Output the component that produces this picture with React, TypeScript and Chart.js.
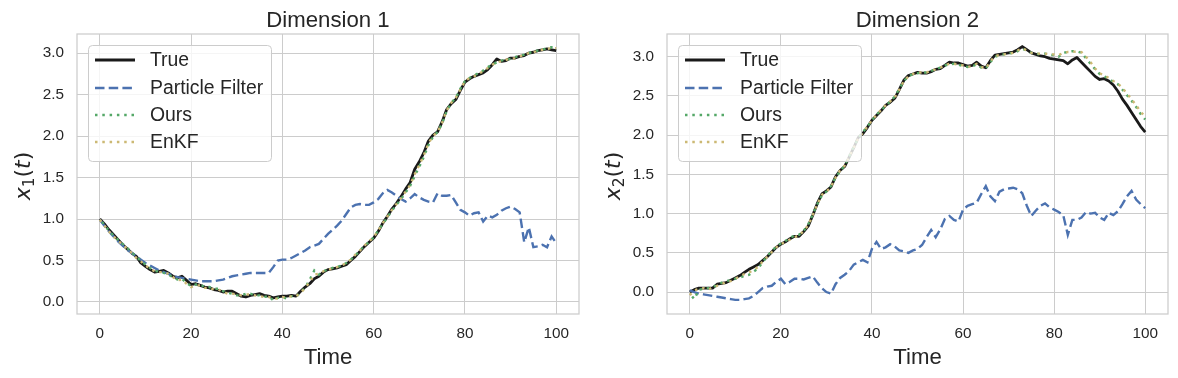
import React, { useEffect, useRef } from "react";
import { Chart, registerables } from "chart.js";

Chart.register(...registerables);

// ---------- data ----------
const TIME = [
  0, 1, 2, 3, 4, 5, 6, 7, 8, 9, 10, 11, 12, 13, 14, 15, 16, 17, 18, 19, 20,
  21, 22, 23, 24, 25, 26, 27, 28, 29, 30, 31, 32, 33, 34, 35, 36, 37, 38, 39, 40,
  41, 42, 43, 44, 45, 46, 47, 48, 49, 50, 51, 52, 53, 54, 55, 56, 57, 58, 59, 60,
  61, 62, 63, 64, 65, 66, 67, 68, 69, 70, 71, 72, 73, 74, 75, 76, 77, 78, 79, 80,
  81, 82, 83, 84, 85, 86, 87, 88, 89, 90, 91, 92, 93, 94, 95, 96, 97, 98, 99, 100,
];
const X_TICKS = [0, 20, 40, 60, 80, 100];
const Y_TICKS = [0, 0.5, 1, 1.5, 2, 2.5, 3];
const SERIES_NAMES = ["True", "Particle Filter", "Ours", "EnKF"];
const PANEL_TITLES = ["Dimension 1", "Dimension 2"];
const X_LABEL = "Time";

const D1_TRUE = [
  1.0, 0.94, 0.87, 0.81, 0.75, 0.69, 0.64, 0.59, 0.55, 0.47,
  0.43, 0.39, 0.36, 0.37, 0.38, 0.35, 0.31, 0.29, 0.31, 0.26,
  0.21, 0.22, 0.2, 0.18, 0.17, 0.15, 0.14, 0.12, 0.13, 0.13,
  0.1, 0.07, 0.06, 0.08, 0.09, 0.1, 0.08, 0.07, 0.05, 0.06,
  0.07, 0.07, 0.08, 0.07, 0.13, 0.18, 0.22, 0.28, 0.31, 0.36,
  0.39, 0.4, 0.41, 0.43, 0.45, 0.5, 0.55, 0.61, 0.67, 0.72,
  0.77, 0.85, 0.95, 1.03, 1.12, 1.19, 1.27, 1.36, 1.44, 1.6,
  1.69, 1.8, 1.94, 2.01, 2.05, 2.17, 2.32, 2.39, 2.44, 2.55,
  2.65, 2.69, 2.72, 2.74, 2.76, 2.8, 2.86, 2.93, 2.9, 2.91,
  2.94, 2.94, 2.96, 2.97, 3.0, 3.01, 3.03, 3.04, 3.05, 3.04,
  3.03,
];
const D1_PF = [
  0.99, 0.92, 0.85, 0.79, 0.73, 0.68, 0.63, 0.59, 0.55, 0.51,
  0.47, 0.44, 0.41, 0.38, 0.36, 0.34, 0.32, 0.3, 0.29, 0.28,
  0.27, 0.26, 0.25, 0.25, 0.25, 0.25, 0.26, 0.27, 0.29, 0.31,
  0.32, 0.33, 0.34, 0.35, 0.35, 0.35, 0.35, 0.35, 0.42, 0.5,
  0.51, 0.51, 0.53, 0.56, 0.59, 0.62, 0.66, 0.68, 0.7, 0.76,
  0.82, 0.87, 0.92, 0.98, 1.06, 1.14, 1.17, 1.18, 1.17, 1.17,
  1.2, 1.24, 1.31, 1.35, 1.32, 1.28, 1.24, 1.21, 1.25, 1.3,
  1.26, 1.23, 1.21, 1.2, 1.31, 1.28, 1.28, 1.29, 1.2, 1.11,
  1.08, 1.04, 1.07, 1.08, 0.97, 1.04, 1.02, 1.05, 1.1, 1.13,
  1.15, 1.12, 1.08, 0.72, 0.9, 0.66, 0.67, 0.69, 0.66, 0.79,
  0.71,
];
const D1_OURS = [
  1.0, 0.93, 0.86, 0.8, 0.75, 0.7, 0.65, 0.6, 0.54, 0.5,
  0.45, 0.41, 0.38, 0.36, 0.35, 0.33, 0.3, 0.27, 0.28, 0.23,
  0.19, 0.21, 0.21, 0.18, 0.18, 0.16, 0.16, 0.13, 0.11, 0.1,
  0.08, 0.08, 0.1, 0.1, 0.08, 0.08, 0.06, 0.07, 0.02, 0.05,
  0.06, 0.04, 0.07, 0.06, 0.12, 0.17, 0.27, 0.38, 0.33, 0.37,
  0.39, 0.41, 0.42, 0.44, 0.47, 0.51, 0.56, 0.62, 0.68, 0.72,
  0.78, 0.86, 0.94, 1.02, 1.1, 1.17, 1.24, 1.32, 1.4, 1.52,
  1.63, 1.75, 1.89, 1.99, 2.05, 2.15, 2.3, 2.4, 2.46, 2.57,
  2.66, 2.7, 2.73, 2.76, 2.79, 2.83, 2.86, 2.89, 2.91, 2.92,
  2.93, 2.95, 2.97, 2.98, 3.0, 3.02, 3.03, 3.04, 3.06, 3.07,
  3.06,
];
const D1_ENKF = [
  0.99, 0.92, 0.85, 0.79, 0.74, 0.69, 0.64, 0.59, 0.53, 0.49,
  0.44, 0.4, 0.37, 0.36, 0.36, 0.34, 0.3, 0.26, 0.27, 0.22,
  0.18, 0.2, 0.2, 0.17, 0.17, 0.15, 0.15, 0.12, 0.1, 0.1,
  0.09, 0.08, 0.09, 0.09, 0.08, 0.07, 0.06, 0.06, 0.04, 0.04,
  0.06, 0.05, 0.07, 0.07, 0.11, 0.17, 0.24, 0.33, 0.34, 0.37,
  0.39, 0.4, 0.42, 0.44, 0.47, 0.51, 0.57, 0.62, 0.68, 0.73,
  0.78, 0.86, 0.95, 1.03, 1.11, 1.18, 1.25, 1.33, 1.41, 1.54,
  1.65, 1.77, 1.91, 2.0, 2.05, 2.16, 2.31, 2.4, 2.46, 2.56,
  2.66, 2.7, 2.72, 2.75, 2.78, 2.82, 2.86, 2.89, 2.9, 2.92,
  2.93, 2.94, 2.96, 2.98, 3.0, 3.01, 3.03, 3.04, 3.05, 3.06,
  3.06,
];

const D2_TRUE = [
  0.0, 0.03, 0.05, 0.05, 0.05, 0.05, 0.1, 0.11, 0.12, 0.15,
  0.18, 0.21, 0.25, 0.29, 0.32, 0.35, 0.4, 0.45, 0.51, 0.57,
  0.61, 0.64, 0.68, 0.71, 0.71, 0.77, 0.84, 0.98, 1.13, 1.25,
  1.29, 1.34, 1.47, 1.55, 1.6, 1.72, 1.84, 1.97, 2.02, 2.1,
  2.19, 2.25, 2.31, 2.38, 2.42, 2.47, 2.58, 2.7, 2.76, 2.78,
  2.8, 2.79, 2.79, 2.81, 2.84, 2.85, 2.89, 2.93, 2.92, 2.92,
  2.9, 2.88, 2.89, 2.93, 2.88, 2.86, 2.95, 3.02, 3.03, 3.04,
  3.05, 3.06, 3.09, 3.13, 3.09, 3.05, 3.03, 3.01, 3.0, 2.98,
  2.97, 2.96, 2.95, 2.91, 2.96, 2.99, 2.93, 2.87, 2.81, 2.75,
  2.71, 2.72, 2.69, 2.64, 2.56, 2.46, 2.38, 2.29, 2.2, 2.11,
  2.04,
];
const D2_PF = [
  0.02, 0.0, -0.02, -0.03, -0.04, -0.05, -0.06, -0.07, -0.08, -0.09,
  -0.1, -0.1, -0.09, -0.08, -0.05, 0.0, 0.05, 0.07, 0.08, 0.13,
  0.17, 0.1, 0.13, 0.17, 0.17, 0.16, 0.18, 0.2, 0.12, 0.05,
  0.0, -0.02, 0.1, 0.18, 0.22, 0.27, 0.35, 0.38, 0.41, 0.38,
  0.55, 0.64, 0.55, 0.57, 0.61, 0.58, 0.53, 0.52, 0.5, 0.53,
  0.55, 0.6, 0.7, 0.79, 0.7, 0.8, 0.93, 0.97, 0.92, 0.9,
  1.05, 1.1, 1.12, 1.14, 1.25, 1.35, 1.22, 1.16, 1.28, 1.31,
  1.32, 1.33, 1.31, 1.26, 1.1, 0.97, 1.04, 1.1, 1.13, 1.08,
  1.05, 1.02, 0.98, 0.73, 0.92, 0.92, 0.95, 1.02, 1.0, 1.01,
  0.95, 0.92, 1.01, 0.98, 1.03, 1.12, 1.22, 1.29, 1.18, 1.12,
  1.07,
];
const D2_OURS = [
  -0.02, -0.09, 0.03, 0.04, 0.05, 0.06, 0.09, 0.12, 0.14, 0.15,
  0.17, 0.18, 0.21, 0.22, 0.26, 0.3, 0.38, 0.46, 0.52, 0.58,
  0.62, 0.65, 0.69, 0.72, 0.73, 0.78, 0.86, 0.99, 1.12, 1.23,
  1.28, 1.35, 1.46, 1.54, 1.61, 1.73, 1.85, 1.96, 2.04, 2.11,
  2.19, 2.26, 2.32, 2.37, 2.43, 2.49, 2.59, 2.69, 2.75, 2.78,
  2.79, 2.8, 2.8, 2.82, 2.84, 2.86, 2.89, 2.9, 2.91, 2.9,
  2.88, 2.87, 2.88, 2.9, 2.86, 2.85, 2.93, 3.0, 3.02, 3.03,
  3.04, 3.05, 3.07, 3.1, 3.08, 3.05, 3.04, 3.03, 3.04, 3.03,
  3.02, 3.0, 3.05, 3.06, 3.07, 3.07, 3.05, 2.98, 2.91, 2.84,
  2.78, 2.75, 2.72, 2.68, 2.65, 2.58, 2.51, 2.44, 2.36, 2.27,
  2.2,
];
const D2_ENKF = [
  -0.04, 0.02, 0.04, 0.05, 0.03, 0.06, 0.08, 0.1, 0.13, 0.14,
  0.17, 0.2, 0.23, 0.25, 0.28, 0.32, 0.39, 0.45, 0.51, 0.57,
  0.61, 0.64, 0.67, 0.7, 0.72, 0.78, 0.85, 0.98, 1.12, 1.24,
  1.28, 1.34, 1.46, 1.55, 1.61, 1.72, 1.84, 1.96, 2.03, 2.11,
  2.19, 2.26, 2.32, 2.38, 2.43, 2.48, 2.58, 2.69, 2.75, 2.78,
  2.8, 2.8, 2.8, 2.82, 2.84, 2.86, 2.89, 2.91, 2.91, 2.9,
  2.89, 2.87, 2.88, 2.91, 2.87, 2.85, 2.94, 3.01, 3.02, 3.03,
  3.04, 3.05, 3.08, 3.11, 3.08, 3.05, 3.04, 3.04, 3.04, 3.03,
  3.03, 3.02, 3.05, 3.06, 3.06, 3.07, 3.06, 3.0, 2.93, 2.85,
  2.79, 2.76, 2.73, 2.69, 2.66, 2.6, 2.53, 2.46, 2.38, 2.3,
  2.23,
];

// ---------- styles ----------
const FONT = '"Liberation Sans", Arial, sans-serif';
const MATH_FONT = '"DejaVu Sans", sans-serif';
const TEXT_COLOR = "#262626";
const GRID_COLOR = "#cccccc";
const STYLES = [
  { color: "#1a1a1a", width: 2.8, dash: [] as number[], offset: 0 },
  { color: "#4c72b0", width: 2.4, dash: [9.5, 4.2], offset: 0 },
  { color: "#55a868", width: 2.4, dash: [2.5, 4.8], offset: 3.6 },
  { color: "#ccb974", width: 2.4, dash: [2.5, 4.8], offset: 0 },
];

type PanelCfg = {
  title: string;
  sub: string;
  series: number[][];
  yMin: number;
  yMax: number;
  width: number;
  areaLeft: number;
  areaRight: number;
  left: number;
};

const PANELS: PanelCfg[] = [
  {
    title: PANEL_TITLES[0],
    sub: "1",
    series: [D1_TRUE, D1_PF, D1_OURS, D1_ENKF],
    yMin: -0.145,
    yMax: 3.23,
    width: 600,
    areaLeft: 77,
    areaRight: 579,
    left: 0,
  },
  {
    title: PANEL_TITLES[1],
    sub: "2",
    series: [D2_TRUE, D2_PF, D2_OURS, D2_ENKF],
    yMin: -0.28,
    yMax: 3.29,
    width: 578,
    areaLeft: 67,
    areaRight: 568,
    left: 600,
  },
];

const HEIGHT = 378;
const AREA_TOP = 34;
const AREA_BOTTOM = 314;

function drawYLabel(ctx: CanvasRenderingContext2D, bx: number, cy: number, sub: string) {
  const size = 22;
  const parts = [
    { t: "x", font: `italic ${size}px ${MATH_FONT}`, dy: 0 },
    { t: sub, font: `${size * 0.7}px ${MATH_FONT}`, dy: size * 0.2 },
    { t: "(", font: `${size}px ${MATH_FONT}`, dy: 0 },
    { t: "t", font: `italic ${size}px ${MATH_FONT}`, dy: 0 },
    { t: ")", font: `${size}px ${MATH_FONT}`, dy: 0 },
  ];
  ctx.save();
  ctx.translate(bx, cy);
  ctx.rotate(-Math.PI / 2);
  ctx.fillStyle = TEXT_COLOR;
  ctx.textBaseline = "alphabetic";
  ctx.textAlign = "left";
  let total = 0;
  const widths = parts.map((p) => {
    ctx.font = p.font;
    const w = ctx.measureText(p.t).width;
    total += w;
    return w;
  });
  let x = -total / 2;
  parts.forEach((p, i) => {
    ctx.font = p.font;
    ctx.fillText(p.t, x, p.dy);
    x += widths[i];
  });
  ctx.restore();
}

function makeDecor(cfg: PanelCfg) {
  return {
    id: "decor",
    afterDatasetsDraw(chart: any) {
      const { ctx, chartArea: a } = chart;
      ctx.save();
      ctx.strokeStyle = GRID_COLOR;
      ctx.lineWidth = 1.25;
      ctx.strokeRect(a.left, a.top, a.right - a.left, a.bottom - a.top);
      ctx.restore();
    },
    afterDraw(chart: any) {
      const { ctx, chartArea: a } = chart;
      const cx = (a.left + a.right) / 2;
      ctx.save();
      ctx.fillStyle = TEXT_COLOR;
      ctx.textAlign = "center";
      ctx.textBaseline = "alphabetic";
      ctx.font = `22.2px ${FONT}`;
      ctx.fillText(cfg.title, cx, 26.5);
      ctx.fillText(X_LABEL, cx, 364);
      ctx.restore();
      drawYLabel(ctx, a.left - 47, (a.top + a.bottom) / 2 + 2, cfg.sub);

      // legend
      const bx = a.left + 11;
      const by = a.top + 11;
      const bw = 183;
      const bh = 116;
      ctx.save();
      ctx.beginPath();
      (ctx as any).roundRect(bx + 0.5, by + 0.5, bw, bh, 4);
      ctx.fillStyle = "rgba(255,255,255,0.8)";
      ctx.fill();
      ctx.strokeStyle = GRID_COLOR;
      ctx.lineWidth = 1;
      ctx.stroke();
      const rows = [15, 43, 70, 97];
      SERIES_NAMES.forEach((name, i) => {
        const y = by + rows[i];
        const st = STYLES[i];
        ctx.beginPath();
        ctx.setLineDash(st.dash);
        ctx.lineDashOffset = 0;
        ctx.strokeStyle = st.color;
        ctx.lineWidth = st.width;
        ctx.lineCap = "butt";
        ctx.moveTo(bx + 7, y);
        ctx.lineTo(bx + 47, y);
        ctx.stroke();
        ctx.setLineDash([]);
        ctx.fillStyle = TEXT_COLOR;
        ctx.font = `19.4px ${FONT}`;
        ctx.textAlign = "left";
        ctx.textBaseline = "middle";
        ctx.fillText(name, bx + 62, y + 1);
      });
      ctx.restore();
    },
  };
}

function Panel({ cfg }: { cfg: PanelCfg }) {
  const ref = useRef<HTMLCanvasElement | null>(null);
  useEffect(() => {
    if (!ref.current) return;
    const datasets = cfg.series.map((vals, i) => ({
      label: SERIES_NAMES[i],
      data: vals.map((v, k) => ({ x: TIME[k], y: v })),
      borderColor: STYLES[i].color,
      borderWidth: STYLES[i].width,
      borderDash: STYLES[i].dash,
      borderDashOffset: STYLES[i].offset,
      borderJoinStyle: i === 0 ? "round" : "miter",
      borderCapStyle: "butt",
      pointRadius: 0,
      fill: false,
      tension: 0,
      order: 4 - i,
    }));
    const chart = new Chart(ref.current, {
      type: "line",
      data: { datasets } as any,
      options: {
        responsive: false,
        animation: false,
        devicePixelRatio: 1,
        layout: {
          padding: { left: 0, right: cfg.width - cfg.areaRight, top: AREA_TOP, bottom: 0 },
        },
        plugins: {
          legend: { display: false },
          title: { display: false },
          tooltip: { enabled: false },
        },
        scales: {
          x: {
            type: "linear",
            min: -5,
            max: 105,
            afterFit: (s: any) => {
              s.height = HEIGHT - AREA_BOTTOM;
            },
            afterBuildTicks: (s: any) => {
              s.ticks = X_TICKS.map((v) => ({ value: v }));
            },
            grid: { color: GRID_COLOR, lineWidth: 1, drawTicks: false },
            border: { display: false },
            ticks: {
              padding: 11,
              color: TEXT_COLOR,
              font: { family: FONT, size: 15.3 },
              maxRotation: 0,
              autoSkip: false,
              callback: (v: any) => String(v),
            },
          },
          y: {
            type: "linear",
            min: cfg.yMin,
            max: cfg.yMax,
            afterFit: (s: any) => {
              s.width = cfg.areaLeft;
            },
            afterBuildTicks: (s: any) => {
              s.ticks = Y_TICKS.map((v) => ({ value: v }));
            },
            grid: { color: GRID_COLOR, lineWidth: 1, drawTicks: false },
            border: { display: false },
            ticks: {
              padding: 13,
              color: TEXT_COLOR,
              font: { family: FONT, size: 15.3 },
              autoSkip: false,
              callback: (v: any) => Number(v).toFixed(1),
            },
          },
        },
      } as any,
      plugins: [makeDecor(cfg)],
    });
    return () => chart.destroy();
  }, [cfg]);
  return (
    <canvas
      ref={ref}
      width={cfg.width}
      height={HEIGHT}
      style={{
        position: "absolute",
        left: cfg.left,
        top: 0,
        width: cfg.width,
        height: HEIGHT,
        display: "block",
      }}
    />
  );
}

export default function App() {
  return (
    <div
      style={{
        position: "absolute",
        left: 0,
        top: 0,
        width: 1178,
        height: HEIGHT,
        background: "#ffffff",
      }}
    >
      {PANELS.map((p, i) => (
        <Panel key={i} cfg={p} />
      ))}
    </div>
  );
}
